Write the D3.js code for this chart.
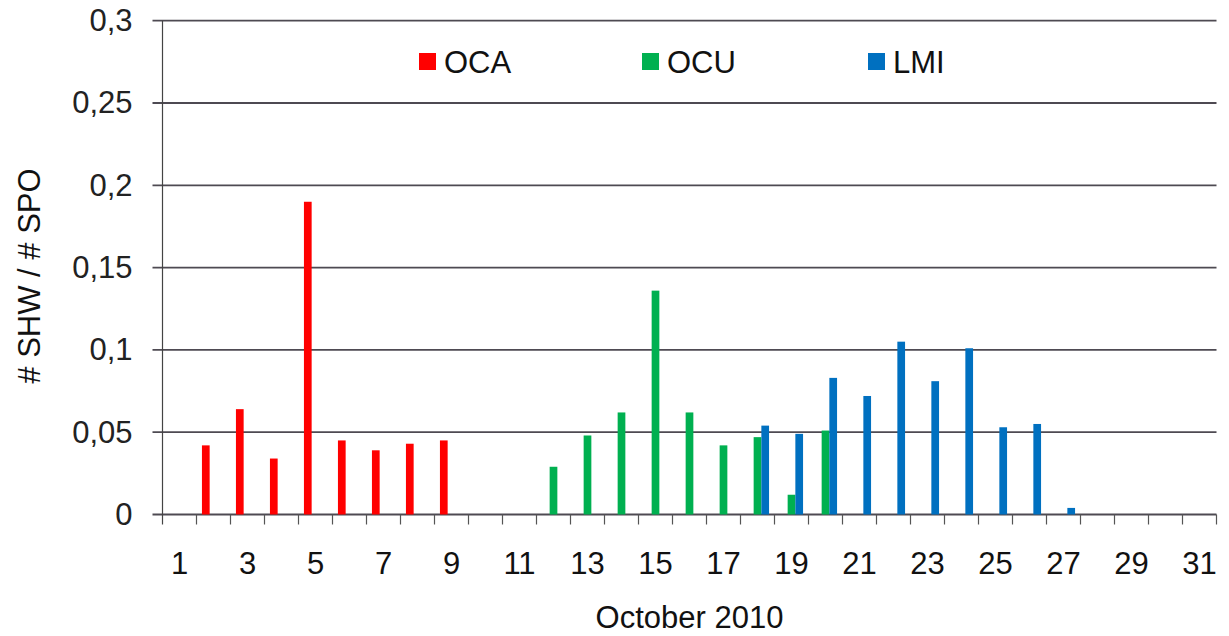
<!DOCTYPE html>
<html>
<head>
<meta charset="utf-8">
<script src="https://cdn.jsdelivr.net/npm/d3@7"></script>
<style>
  html, body { margin: 0; padding: 0; background: #fff; }
  svg { display: block; font-family: "Liberation Sans", Arial, sans-serif; }
</style>
</head>
<body>
<svg id="chart" width="1229" height="636"></svg>
<script>
// Days of October 2010
const days = d3.range(1, 32);
const dayLabels = days.filter(d => d % 2 === 1);

// Series
const seriesNames = ["OCA", "OCU", "LMI"];
const seriesColors = ["#ff0000", "#00b050", "#0070c0"];

const ocaDays = [2, 3, 4, 5, 6, 7, 8, 9];
const ocaValues = [0.042, 0.064, 0.034, 0.190, 0.045, 0.039, 0.043, 0.045];

const ocuDays = [12, 13, 14, 15, 16, 17, 18, 19, 20];
const ocuValues = [0.029, 0.048, 0.062, 0.136, 0.062, 0.042, 0.047, 0.012, 0.051];

const lmiDays = [18, 19, 20, 21, 22, 23, 24, 25, 26, 27];
const lmiValues = [0.054, 0.049, 0.083, 0.072, 0.105, 0.081, 0.101, 0.053, 0.055, 0.004];

const yTicks = [0, 0.05, 0.1, 0.15, 0.2, 0.25, 0.3];

const seriesData = [
  { name: seriesNames[0], color: seriesColors[0], days: ocaDays, values: ocaValues },
  { name: seriesNames[1], color: seriesColors[1], days: ocuDays, values: ocuValues },
  { name: seriesNames[2], color: seriesColors[2], days: lmiDays, values: lmiValues }
];

const bars = [];
seriesData.forEach(s => s.days.forEach((d, i) => bars.push({ series: s.name, color: s.color, day: d, value: s.values[i] })));

const svg = d3.select("#chart");
const plotLeft = 162.5, plotRight = 1216.5, plotTop = 20.7, plotBottom = 514.5;

const x = d3.scaleBand().domain(days).range([plotLeft, plotRight]).paddingInner(0.32).paddingOuter(0.16);
const xs = d3.scaleBand().domain(seriesNames).range([0, x.bandwidth()]);
const xEdge = d3.scaleLinear().domain([0.5, 31.5]).range([plotLeft, plotRight]);
const y = d3.scaleLinear().domain([0, 0.3]).range([plotBottom, plotTop]);

const fmt = v => v === 0 ? "0" : String(v).replace(".", ",");

// Horizontal gridlines (extending a little left of the axis as ticks)
svg.append("g")
  .selectAll("line")
  .data(yTicks)
  .join("line")
  .attr("x1", plotLeft - 10).attr("x2", plotRight)
  .attr("y1", d => y(d)).attr("y2", d => y(d))
  .attr("stroke", "#4e4a52")
  .attr("stroke-width", d => d === 0 ? 2 : 1.8);

// Y axis labels
const yAxis = d3.axisLeft(y).tickValues(yTicks).tickFormat(fmt).tickSize(0).tickPadding(30);
const gy = svg.append("g").attr("transform", `translate(${plotLeft},0)`).call(yAxis);
gy.select(".domain").remove();
gy.selectAll("text")
  .attr("font-size", 31)
  .attr("fill", "#222")
  .attr("font-family", "Liberation Sans, Arial, sans-serif");

// Y axis line
svg.append("line")
  .attr("x1", plotLeft).attr("x2", plotLeft)
  .attr("y1", plotTop).attr("y2", plotBottom + 10)
  .attr("stroke", "#444").attr("stroke-width", 1.2);

// X tick marks at day boundaries
svg.append("g")
  .selectAll("line")
  .data(d3.range(1.5, 32, 1))
  .join("line")
  .attr("x1", d => xEdge(d)).attr("x2", d => xEdge(d))
  .attr("y1", plotBottom).attr("y2", plotBottom + 10)
  .attr("stroke", "#555").attr("stroke-width", 1.2);

// Bars
svg.append("g")
  .selectAll("rect")
  .data(bars)
  .join("rect")
  .attr("x", d => x(d.day) + xs(d.series))
  .attr("width", xs.bandwidth())
  .attr("y", d => y(d.value))
  .attr("height", d => y(0) - y(d.value))
  .attr("fill", d => d.color);

// X axis labels
const xAxis = d3.axisBottom(x).tickValues(dayLabels).tickSize(0).tickPadding(0);
const gx = svg.append("g").attr("transform", `translate(0,${plotBottom})`).call(xAxis);
gx.select(".domain").remove();
gx.selectAll("text")
  .attr("y", 59)
  .attr("dy", 0)
  .attr("font-size", 31)
  .attr("fill", "#111")
  .attr("font-family", "Liberation Sans, Arial, sans-serif");

// Axis titles
svg.append("text")
  .attr("x", (plotLeft + plotRight) / 2)
  .attr("y", 628)
  .attr("text-anchor", "middle")
  .attr("font-size", 31)
  .attr("fill", "#111")
  .text("October 2010");

svg.append("text")
  .attr("transform", "translate(40,276) rotate(-90)")
  .attr("text-anchor", "middle")
  .attr("font-size", 31)
  .attr("fill", "#111")
  .text("# SHW / # SPO");

// Legend
const legendX = [419, 642, 868];
const legend = svg.append("g")
  .selectAll("g")
  .data(seriesData)
  .join("g")
  .attr("transform", (d, i) => `translate(${legendX[i]},53)`);
legend.append("rect")
  .attr("width", 17).attr("height", 17)
  .attr("fill", d => d.color);
legend.append("text")
  .attr("x", 25).attr("y", 20)
  .attr("font-size", 31)
  .attr("fill", "#111")
  .text(d => d.name);
</script>
</body>
</html>
